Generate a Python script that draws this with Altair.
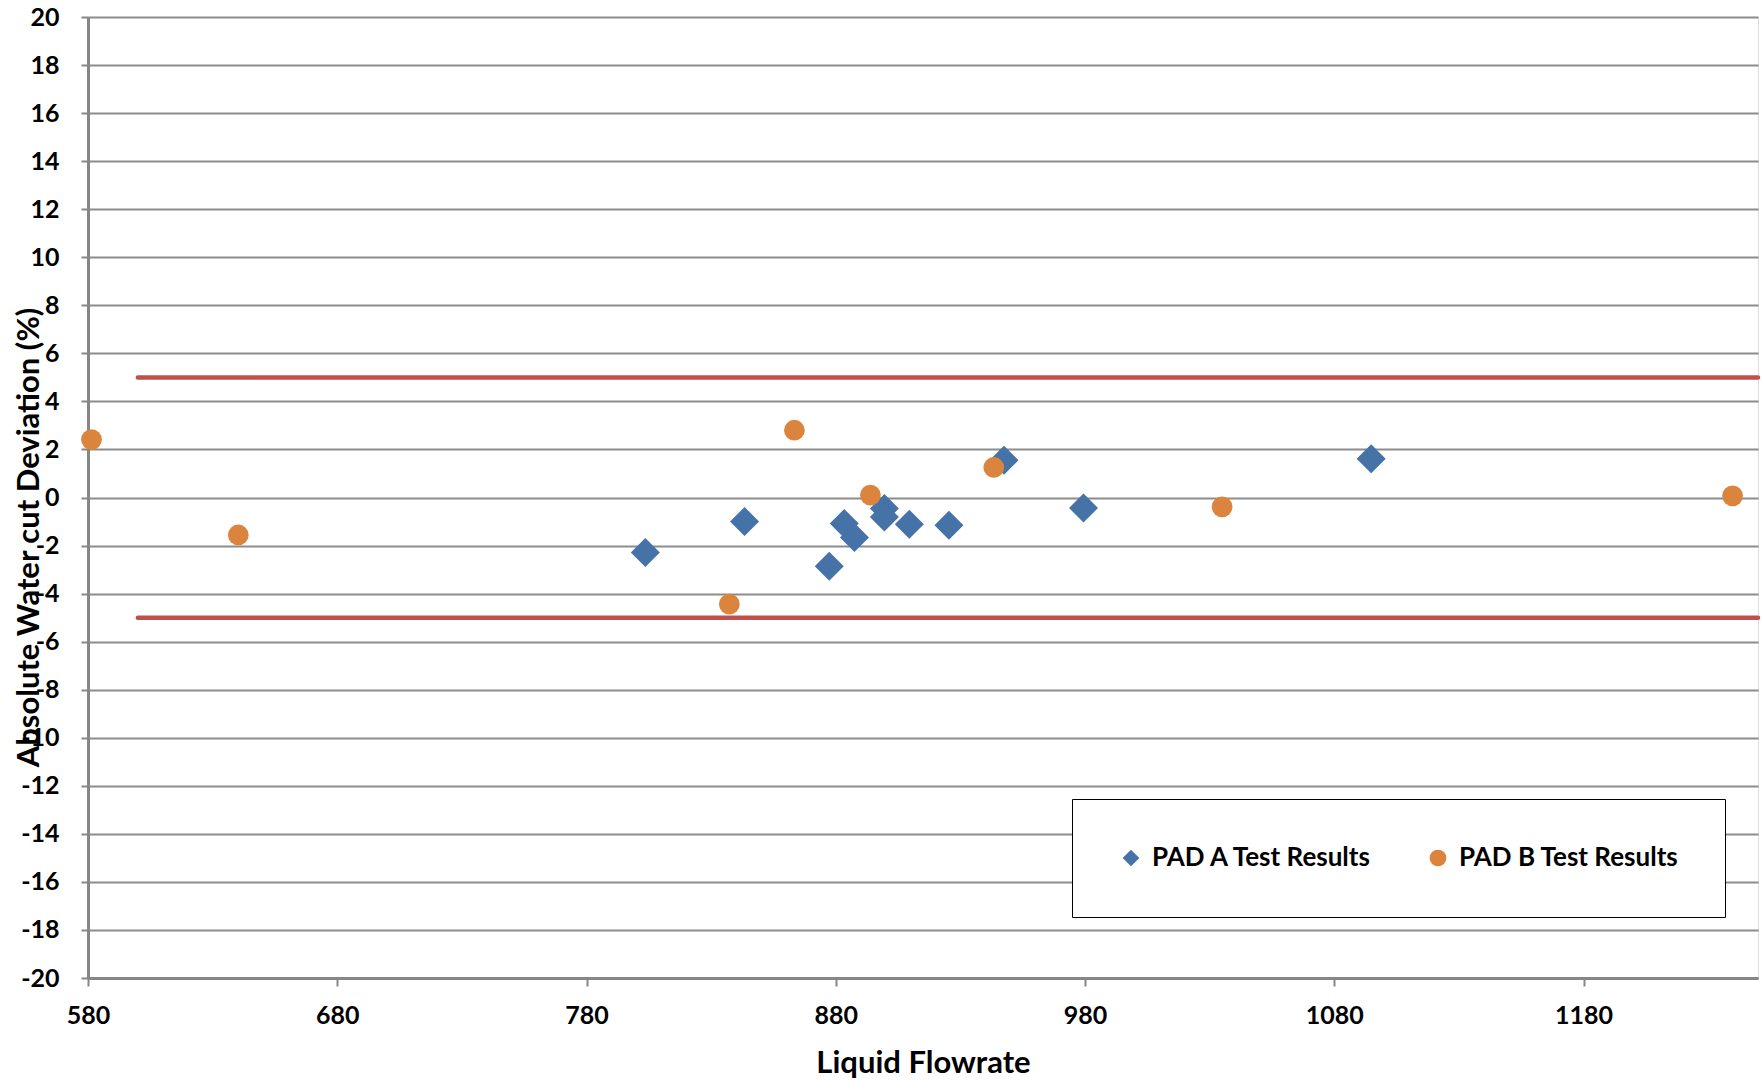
import altair as alt
import pandas as pd

# ---- data ----
pad_a_flow = [803.6, 843.4, 877.4, 883.4, 887.5, 899.5, 899.5, 909.5, 925.4, 947.5, 979.4, 1094.8]
pad_a_dev = [-2.29, -1.00, -2.86, -1.08, -1.66, -0.46, -0.81, -1.11, -1.16, 1.55, -0.44, 1.61]

pad_b_flow = [581.4, 640.3, 837.3, 863.4, 893.9, 943.4, 1035.0, 1239.8]
pad_b_dev = [2.41, -1.56, -4.44, 2.80, 0.10, 1.25, -0.39, 0.07]

series_names = ["PAD A Test Results", "PAD B Test Results"]
series_colors = ["#4572A7", "#DB843D"]
series_shapes = ["diamond", "circle"]

limit_values = [5, -5]
limit_start = 600
limit_end = 1250

x_ticks = [580, 680, 780, 880, 980, 1080, 1180]
y_ticks = list(range(-20, 21, 2))

FONT = "Lato"
LABEL_EXPR = "(datum.value < 0 ? '-' : '') + abs(datum.value)"

df = pd.DataFrame(
    {
        "flow": pad_a_flow + pad_b_flow,
        "dev": pad_a_dev + pad_b_dev,
        "series": [series_names[0]] * len(pad_a_flow) + [series_names[1]] * len(pad_b_flow),
    }
)
limits = pd.DataFrame({"y": limit_values, "x1": [limit_start] * 2, "x2": [limit_end] * 2})

xscale = alt.Scale(domain=[580, 1250], nice=False, zero=False)
yscale = alt.Scale(domain=[-20, 20], nice=False, zero=False)

x_axis = alt.Axis(
    title="Liquid Flowrate",
    values=x_ticks,
    labelExpr=LABEL_EXPR,
    labelFlush=False,
    grid=False,
    domainColor="#868686",
    domainWidth=3,
    tickColor="#868686",
    tickWidth=2,
    tickSize=8,
    labelPadding=17,
    labelFont=FONT,
    labelFontSize=25,
    labelFontWeight="bold",
    labelColor="black",
    titleFont=FONT,
    titleFontSize=31,
    titleFontWeight="bold",
    titleColor="black",
    titleBaseline="alphabetic",
    titleY=94,
)
y_axis = alt.Axis(
    title="Absolute Water cut Deviation (%)",
    values=y_ticks,
    labelExpr=LABEL_EXPR,
    grid=True,
    gridColor="#8c8c8c",
    gridWidth=2,
    domainColor="#868686",
    domainWidth=3,
    tickColor="#868686",
    tickWidth=2,
    tickSize=7,
    labelPadding=22,
    labelFont=FONT,
    labelFontSize=25,
    labelFontWeight="bold",
    labelColor="black",
    titleFont=FONT,
    titleFontSize=31,
    titleFontWeight="bold",
    titleColor="black",
    titleBaseline="alphabetic",
    titleAlign="center",
    titleX=-50,
    titleY=520,
)

color_enc = alt.Color(
    "series:N",
    scale=alt.Scale(domain=series_names, range=series_colors),
    legend=alt.Legend(
        title=None,
        orient="none",
        legendX=984,
        legendY=782,
        direction="horizontal",
        fillColor="white",
        strokeColor="black",
        padding=46,
        columnPadding=52,
        labelFont=FONT,
        labelFontSize=26,
        labelFontWeight="bold",
        labelColor="black",
        labelLimit=400,
        symbolSize=280,
        symbolStrokeWidth=0,
        symbolOpacity=1,
        labelOffset=8,
    ),
)

base = alt.Chart(df).encode(
    x=alt.X("flow:Q", scale=xscale, axis=x_axis),
    y=alt.Y("dev:Q", scale=yscale, axis=y_axis),
    color=color_enc,
    shape=alt.Shape("series:N", scale=alt.Scale(domain=series_names, range=series_shapes)),
)

diamonds = base.transform_filter(alt.datum.series == series_names[0]).mark_point(
    filled=True, size=841, opacity=1, strokeWidth=0
)
circles = base.transform_filter(alt.datum.series == series_names[1]).mark_point(
    filled=True, size=430, opacity=1, strokeWidth=0
)

rules = alt.Chart(limits).mark_rule(color="#C0504D", strokeWidth=4.5, strokeCap="round").encode(
    x=alt.X("x1:Q", scale=xscale),
    x2="x2:Q",
    y=alt.Y("y:Q", scale=yscale),
)

chart = (
    alt.layer(rules, diamonds, circles)
    .properties(
        width=1670,
        height=961,
        autosize=alt.AutoSizeParams(type="none"),
        padding={"left": 88, "top": 17, "right": 4, "bottom": 102},
    )
    .configure_view(stroke="black", strokeWidth=2)
    .configure(background="white")
)

chart.save("out.html", embed_options={"renderer": "svg", "actions": False})
